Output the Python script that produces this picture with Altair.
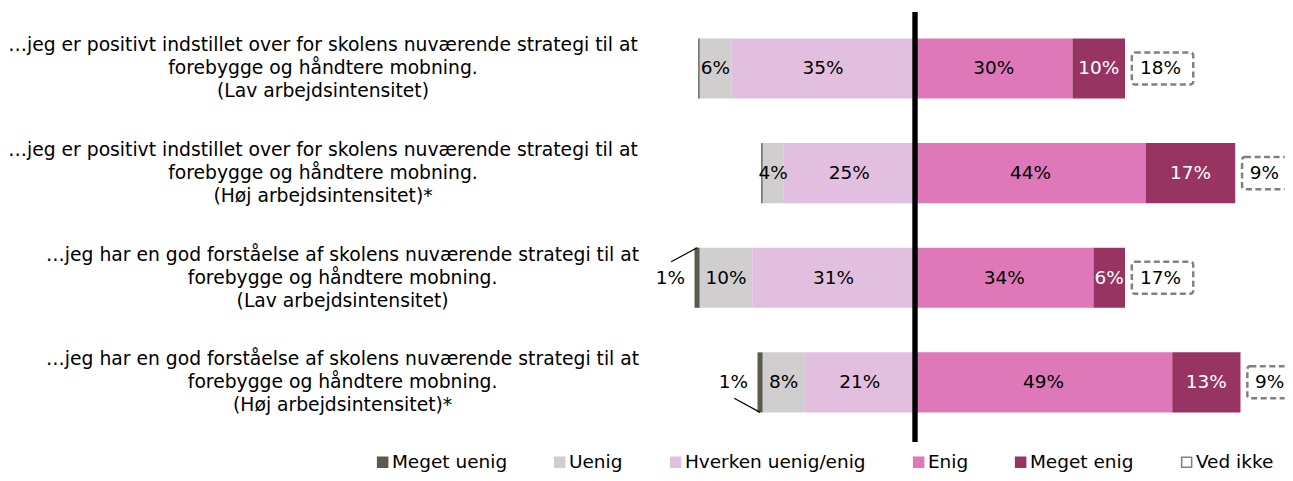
import altair as alt
import pandas as pd

FONT = "DejaVu Sans"
FS = 18.5
FS_CAT = 18.75

categories = [
    "…jeg er positivt indstillet over for skolens nuværende strategi til at|forebygge og håndtere mobning.|(Lav arbejdsintensitet)",
    "…jeg er positivt indstillet over for skolens nuværende strategi til at|forebygge og håndtere mobning.|(Høj arbejdsintensitet)*",
    "…jeg har en god forståelse af skolens nuværende strategi til at|forebygge og håndtere mobning.|(Lav arbejdsintensitet)",
    "…jeg har en god forståelse af skolens nuværende strategi til at|forebygge og håndtere mobning.|(Høj arbejdsintensitet)*",
]
meget_uenig = [0.3, 0.3, 1, 1]
uenig = [6, 4, 10, 8]
hverken = [35, 25, 31, 21]
enig = [30, 44, 34, 49]
meget_enig = [10, 17, 6, 13]
ved_ikke = [18, 9, 17, 9]

series_names = ["Meget uenig", "Uenig", "Hverken uenig/enig", "Enig", "Meget enig", "Ved ikke"]
fill_colors = ["#5b5a4c", "#d0cece", "#e2bfdf", "#de78b9", "#983462", "#ffffff"]
stroke_colors = ["#5b5a4c", "#d0cece", "#e2bfdf", "#de78b9", "#983462", "#808080"]
# leader direction for small outside labels (up / down), '' = none
leader_side = ["", "", "up", "down"]

HALF = 0.287
BOX_HALF = 0.153

rows = []
boxes = []
outs = []
leaders = []
for i, cat in enumerate(categories):
    m, u, h, e, me, vi = meget_uenig[i], uenig[i], hverken[i], enig[i], meget_enig[i], ved_ikke[i]
    segs = [
        ("Meget uenig", -h - u - m, -h - u, m),
        ("Uenig", -h - u, -h, u),
        ("Hverken uenig/enig", -h, 0, h),
        ("Enig", 0, e, e),
        ("Meget enig", e, e + me, me),
    ]
    for name, x1, x2, v in segs:
        rows.append(dict(row=i, serie=name, x1=x1, x2=x2, mid=(x1 + x2) / 2,
                         y1=i - HALF, y2=i + HALF, value=v, label=f"{round(v)}%",
                         tc="white" if name == "Meget enig" else "black"))
    end = e + me
    lab = f"{vi}%"
    w = 4.5 + 2.4 * len(lab)
    bx1 = end + 1.3
    boxes.append(dict(row=i, serie="Ved ikke", bx1=bx1, bx2=bx1 + w, bmid=bx1 + w / 2,
                      y1=i - BOX_HALF, y2=i + BOX_HALF, label=lab))
    if round(m) >= 1:
        left = -h - u - m
        tx = left - 4.6
        outs.append(dict(row=i, tx=tx, label=f"{round(m)}%"))
        d = -1 if leader_side[i] == "up" else 1
        leaders.append(dict(lx1=tx + 0.15, ly1=i + d * 0.152, lx2=left + m / 2, ly2=i + d * HALF))

bars = pd.DataFrame(rows)
boxdf = pd.DataFrame(boxes)
outdf = pd.DataFrame(outs)
leaddf = pd.DataFrame(leaders)
catdf = pd.DataFrame({"row": list(range(len(categories))), "cat": categories})

x_scale = alt.Scale(domain=[-48.46, 70.4], nice=False, zero=False)
y_scale = alt.Scale(domain=[-0.54, 3.57], nice=False, zero=False, reverse=True)
color_scale = alt.Scale(domain=series_names, range=fill_colors)
stroke_scale = alt.Scale(domain=series_names, range=stroke_colors)

legend = alt.Legend(
    title=None, orient="none", direction="horizontal", legendX=-287.2, legendY=441,
    labelFont=FONT, labelFontSize=FS, labelColor="black", labelLimit=0,
    symbolType="square", symbolSize=100, symbolStrokeWidth=1.5,
    columnPadding=43, labelOffset=0, padding=0,
)

bar_layer = alt.Chart(bars).mark_rect().encode(
    x=alt.X("x1:Q", scale=x_scale, axis=None),
    x2="x2:Q",
    y=alt.Y("y1:Q", scale=y_scale, axis=None),
    y2="y2:Q",
    fill=alt.Fill("serie:N", scale=color_scale, legend=legend),
)

zero_rule = alt.Chart(pd.DataFrame({"z": [0]})).mark_rule(strokeWidth=5.4, color="black").encode(
    x=alt.X("z:Q", scale=x_scale, axis=None)
)

box_layer = alt.Chart(boxdf).mark_rect(
    strokeWidth=2.5, cornerRadius=3, clip=True, strokeDash=[6, 3.5]
).encode(
    x=alt.X("bx1:Q", scale=x_scale, axis=None),
    x2="bx2:Q",
    y=alt.Y("y1:Q", scale=y_scale, axis=None),
    y2="y2:Q",
    fill=alt.Fill("serie:N", scale=color_scale, legend=legend),
    stroke=alt.Stroke("serie:N", scale=stroke_scale, legend=legend),
)

box_text = alt.Chart(boxdf).mark_text(font=FONT, fontSize=FS, color="black", dx=-2).encode(
    x=alt.X("bmid:Q", scale=x_scale, axis=None),
    y=alt.Y("row:Q", scale=y_scale, axis=None),
    text="label:N",
)

in_text = alt.Chart(bars).transform_filter(
    alt.datum.serie != "Meget uenig"
).mark_text(font=FONT, fontSize=FS).encode(
    x=alt.X("mid:Q", scale=x_scale, axis=None),
    y=alt.Y("row:Q", scale=y_scale, axis=None),
    text="label:N",
    color=alt.Color("tc:N", scale=None),
)

out_text = alt.Chart(outdf).mark_text(font=FONT, fontSize=FS, color="black").encode(
    x=alt.X("tx:Q", scale=x_scale, axis=None),
    y=alt.Y("row:Q", scale=y_scale, axis=None),
    text="label:N",
)

leader_layer = alt.Chart(leaddf).mark_rule(color="black", strokeWidth=1.2).encode(
    x=alt.X("lx1:Q", scale=x_scale, axis=None),
    x2="lx2:Q",
    y=alt.Y("ly1:Q", scale=y_scale, axis=None),
    y2="ly2:Q",
)

# category labels (axis-like, centred multi-line blocks left of the plot)
def cat_labels(pred, xpix):
    return alt.Chart(catdf).transform_filter(pred).mark_text(
        font=FONT, fontSize=FS_CAT, color="black", align="center", baseline="middle",
        lineBreak="|", lineHeight=23, dy=-23,
    ).encode(
        x=alt.value(xpix),
        y=alt.Y("row:Q", scale=y_scale, axis=None),
        text="cat:N",
    )

labels_a = cat_labels(alt.datum.row < 2, -337.6)
labels_b = cat_labels(alt.datum.row >= 2, -318)

chart = alt.layer(
    bar_layer, zero_rule, box_layer, box_text, in_text, out_text, leader_layer,
    labels_a, labels_b,
).properties(
    width=624, height=430,
    autosize=alt.AutoSizeParams(type="none"),
    padding={"left": 652.6, "top": 4, "right": 0, "bottom": 31},
).configure_view(stroke=None)

chart.save("out.html", embed_options={"renderer": "svg", "actions": False})
